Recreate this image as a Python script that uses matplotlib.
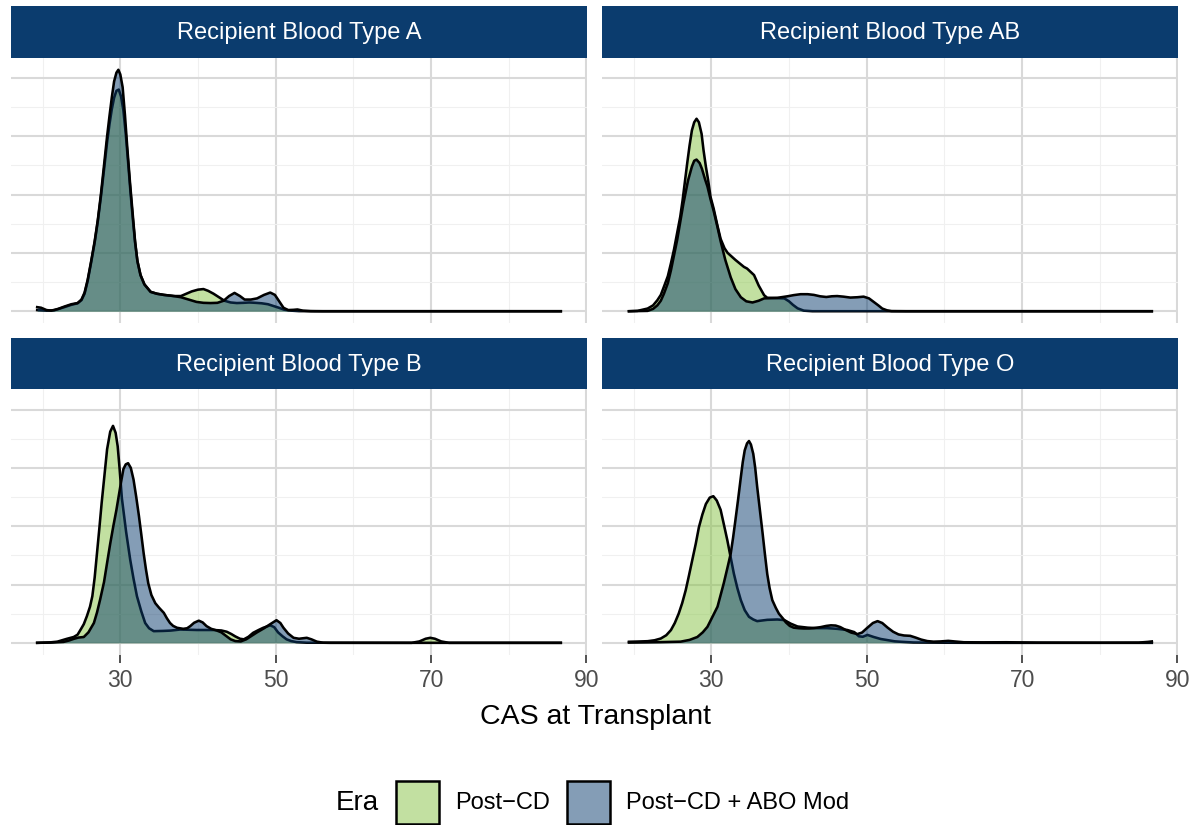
import matplotlib
matplotlib.use("Agg")
import matplotlib.pyplot as plt
from matplotlib.patches import Rectangle
import numpy as np

plt.rcParams['font.family'] = ['Liberation Sans', 'DejaVu Sans']

# ---- data: density of CAS at transplant ----
panels = ['Recipient Blood Type A', 'Recipient Blood Type AB',
          'Recipient Blood Type B', 'Recipient Blood Type O']
eras = ['Post\u2212CD', 'Post\u2212CD + ABO Mod']

a_post_x = [19.3, 20.5, 21.5, 22.8, 23.7, 24.5, 25.0, 25.4, 25.8, 26.25, 26.7, 27.1, 27.5, 27.95, 28.3,
            28.6, 28.9, 29.2, 29.5, 29.8, 30.1, 30.4, 30.7, 31.0, 31.3, 31.6, 31.9, 32.2, 32.6, 33.1,
            33.9, 34.7, 35.6, 36.9, 37.8, 38.5, 39.2, 40.0, 40.7, 41.3, 42.0, 42.7, 43.4, 44.2, 45.0,
            45.8, 46.6, 47.4, 48.2, 49.0, 49.7, 50.4, 51.1, 52.0, 53.0, 55.0, 86.7]
a_post_y = [0.001, 0.0005, 0.0008, 0.0035, 0.0055, 0.0068, 0.0095, 0.015, 0.026, 0.042, 0.059, 0.077,
            0.098, 0.124, 0.145, 0.16, 0.173, 0.183, 0.189, 0.19, 0.184, 0.172, 0.152, 0.128, 0.103,
            0.08, 0.059, 0.043, 0.031, 0.023, 0.0166, 0.015, 0.014, 0.013, 0.013, 0.015, 0.017, 0.0185,
            0.019, 0.0175, 0.015, 0.012, 0.009, 0.0075, 0.007, 0.0072, 0.0075, 0.0072, 0.0068, 0.006,
            0.0045, 0.003, 0.0013, 0.0005, 0.0001, 0.0, 0.0]
a_abo_x = [19.3, 19.8, 20.5, 21.1, 22.0, 22.8, 23.7, 24.5, 25.0, 25.4, 25.8, 26.25, 26.7, 27.1, 27.5,
           27.95, 28.3, 28.6, 28.9, 29.2, 29.5, 29.75, 30.0, 30.3, 30.6, 30.9, 31.25, 31.6, 31.9, 32.2,
           32.6, 33.1, 33.9, 34.7, 35.6, 36.9, 37.8, 38.8, 39.8, 40.7, 41.6, 42.5, 43.3, 44.0, 44.7,
           45.4, 46.0, 46.8, 47.6, 48.5, 49.3, 49.9, 50.5, 51.0, 51.6, 52.3, 52.8, 53.5, 54.5, 56.0, 86.7]
a_abo_y = [0.0035, 0.003, 0.001, 0.0005, 0.002, 0.004, 0.006, 0.007, 0.01, 0.016, 0.027, 0.043, 0.06,
           0.078, 0.1, 0.128, 0.15, 0.167, 0.183, 0.197, 0.2045, 0.207, 0.203, 0.192, 0.168, 0.14, 0.11,
           0.083, 0.06, 0.043, 0.031, 0.023, 0.0166, 0.015, 0.014, 0.013, 0.012, 0.01, 0.008, 0.0072,
           0.007, 0.0072, 0.009, 0.013, 0.0157, 0.013, 0.01, 0.01, 0.011, 0.014, 0.016, 0.014, 0.008,
           0.003, 0.001, 0.0012, 0.0015, 0.0005, 0.0001, 0.0, 0.0]

ab_post_x = [19.4, 20.5, 21.8, 22.5, 23.05, 23.5, 23.9, 24.4, 24.8, 25.2, 25.6, 26.0, 26.3, 26.6, 26.9,
             27.2, 27.5, 27.8, 28.1, 28.4, 28.75, 29.0, 29.3, 29.6, 29.9, 30.3, 30.8, 31.2, 31.7, 32.1,
             33.1, 34.2, 34.6, 35.5, 36.1, 36.8, 37.2, 38.5, 39.4, 40.0, 40.5, 41.1, 41.9, 43.0, 86.7]
ab_post_y = [0.0, 0.0003, 0.0023, 0.005, 0.0094, 0.014, 0.021, 0.03, 0.041, 0.053, 0.067, 0.081, 0.095,
             0.111, 0.127, 0.142, 0.155, 0.162, 0.165, 0.162, 0.152, 0.138, 0.124, 0.112, 0.098, 0.088,
             0.073, 0.062, 0.054, 0.05, 0.044, 0.038, 0.0366, 0.031, 0.022, 0.0137, 0.0115, 0.0112,
             0.011, 0.0085, 0.0055, 0.0025, 0.0005, 0.0, 0.0]
ab_abo_x = [19.4, 21.8, 22.5, 23.05, 23.5, 23.9, 24.4, 24.8, 25.6, 26.4, 27.0, 27.5, 27.8, 28.1, 28.5,
            28.8, 29.2, 29.5, 29.9, 30.3, 30.8, 31.2, 31.8, 32.5, 33.1, 33.8, 34.5, 35.3, 36.1, 36.8,
            37.5, 38.5, 39.8, 40.6, 41.5, 42.4, 43.2, 44.0, 44.8, 45.5, 46.2, 47.0, 47.9, 48.8, 49.6,
            50.3, 50.9, 51.5, 52.0, 52.6, 53.2, 55.0, 86.7]
ab_abo_y = [0.0, 0.0003, 0.002, 0.005, 0.009, 0.015, 0.024, 0.035, 0.061, 0.092, 0.112, 0.124, 0.129,
            0.13, 0.127, 0.122, 0.113, 0.107, 0.096, 0.086, 0.072, 0.06, 0.044, 0.029, 0.019, 0.012,
            0.0085, 0.0075, 0.009, 0.011, 0.0112, 0.0115, 0.0128, 0.0138, 0.0146, 0.0146, 0.014, 0.0128,
            0.0122, 0.0128, 0.013, 0.0125, 0.0117, 0.012, 0.0125, 0.011, 0.008, 0.005, 0.0023, 0.0008,
            0.0001, 0.0, 0.0]

b_post_x = [19.3, 21.0, 21.9, 23.1, 24.0, 24.5, 24.9, 25.3, 25.7, 26.1, 26.4, 26.7, 27.0, 27.3, 27.6,
            27.95, 28.3, 28.7, 29.06, 29.4, 29.66, 29.9, 30.2, 30.75, 31.28, 31.7, 32.14, 32.7, 33.2,
            33.7, 34.3, 35.5, 36.5, 37.7, 39.85, 42.0, 43.0, 43.7, 44.3, 44.8, 45.4, 45.9, 46.5, 47.1,
            47.8, 48.4, 49.3, 49.8, 50.3, 50.9, 51.4, 52.0, 52.7, 54.0, 67.5, 68.5, 69.3, 69.9, 70.5,
            71.3, 72.3, 86.7]
b_post_y = [0.0, 0.0004, 0.001, 0.0034, 0.005, 0.007, 0.0114, 0.016, 0.0229, 0.031, 0.04, 0.056, 0.077,
            0.098, 0.12, 0.143, 0.166, 0.181, 0.186, 0.18, 0.1686, 0.15, 0.124, 0.095, 0.071, 0.055,
            0.04, 0.027, 0.017, 0.0125, 0.01, 0.0102, 0.0105, 0.0114, 0.011, 0.011, 0.0106, 0.0095,
            0.0075, 0.0055, 0.0035, 0.003, 0.0052, 0.0086, 0.011, 0.0129, 0.015, 0.0135, 0.009, 0.0055,
            0.003, 0.0015, 0.0006, 0.0001, 0.0, 0.0012, 0.0035, 0.0043, 0.0035, 0.0012, 0.0, 0.0]
b_abo_x = [19.3, 21.0, 22.7, 23.4, 24.0, 24.6, 25.3, 25.9, 26.6, 27.0, 27.4, 27.9, 28.3, 28.7, 29.1,
           29.5, 29.8, 30.1, 30.4, 30.7, 31.0, 31.35, 31.7, 32.05, 32.4, 32.7, 33.0, 33.3, 33.6, 34.0,
           34.5, 35.0, 35.6, 36.0, 36.4, 36.8, 37.3, 38.1, 38.6, 39.0, 39.5, 40.1, 40.6, 41.1, 41.7,
           42.4, 43.0, 43.6, 44.2, 44.8, 45.5, 46.2, 46.9, 47.6, 48.5, 49.3, 50.1, 50.6, 51.0, 51.6,
           52.3, 53.0, 54.0, 54.6, 55.3, 56.1, 57.0, 86.7]
b_abo_y = [0.0, 0.0002, 0.0008, 0.002, 0.0034, 0.0045, 0.005, 0.009, 0.017, 0.026, 0.037, 0.052, 0.0686,
           0.085, 0.1, 0.114, 0.126, 0.138, 0.149, 0.153, 0.154, 0.15, 0.14, 0.125, 0.1086, 0.093, 0.077,
           0.063, 0.051, 0.041, 0.034, 0.03, 0.0257, 0.021, 0.017, 0.0145, 0.0129, 0.012, 0.0125,
           0.0143, 0.0172, 0.019, 0.0175, 0.0143, 0.012, 0.0106, 0.009, 0.006, 0.003, 0.0015, 0.0012,
           0.003, 0.006, 0.009, 0.0125, 0.016, 0.0194, 0.017, 0.0129, 0.008, 0.0043, 0.0035, 0.0043,
           0.003, 0.001, 0.0001, 0.0, 0.0]

o_post_x = [19.4, 20.5, 21.8, 22.7, 23.5, 24.2, 24.8, 25.3, 25.8, 26.25, 26.7, 27.1, 27.55, 28.0, 28.4,
            28.85, 29.3, 29.8, 30.26, 30.7, 31.2, 31.6, 32.06, 32.5, 32.9, 33.35, 33.8, 34.3, 34.85,
            35.4, 35.9, 37.2, 38.5, 39.4, 40.2, 41.1, 42.4, 43.6, 44.9, 46.2, 47.5, 48.4, 49.0, 49.5,
            50.1, 50.9, 51.8, 52.7, 53.6, 54.4, 56.0, 60.0, 65.0, 86.7]
o_post_y = [0.0009, 0.0011, 0.0014, 0.0022, 0.0037, 0.0065, 0.0109, 0.017, 0.025, 0.034, 0.045, 0.057,
            0.071, 0.085, 0.099, 0.11, 0.119, 0.1245, 0.1257, 0.122, 0.114, 0.102, 0.088, 0.073, 0.0594,
            0.047, 0.0366, 0.028, 0.0223, 0.02, 0.0186, 0.0197, 0.02, 0.0195, 0.0165, 0.014, 0.013,
            0.0126, 0.0126, 0.012, 0.011, 0.0092, 0.0056, 0.0052, 0.0068, 0.005, 0.0033, 0.0023, 0.0013,
            0.0009, 0.0003, 0.0001, 0.0, 0.0]
o_abo_x = [19.4, 23.5, 26.05, 27.2, 28.2, 28.9, 29.5, 30.2, 30.8, 31.2, 31.6, 32.1, 32.5, 32.8, 33.1,
           33.45, 33.8, 34.05, 34.3, 34.6, 34.85, 35.1, 35.4, 35.65, 35.9, 36.25, 36.6, 36.9, 37.2, 37.5,
           37.85, 38.3, 38.7, 39.2, 39.6, 40.1, 40.6, 41.3, 41.9, 42.6, 43.2, 44.1, 44.8, 45.4, 46.0,
           46.6, 47.3, 48.0, 48.8, 49.4, 50.1, 50.8, 51.4, 52.0, 52.7, 53.4, 54.1, 54.8, 55.6, 56.3,
           57.0, 57.8, 58.6, 59.5, 60.5, 61.3, 62.5, 65.0, 68.0, 72.0, 80.0, 85.0, 86.2, 86.7]
o_abo_y = [0.0002, 0.0006, 0.001, 0.0025, 0.005, 0.009, 0.0137, 0.023, 0.031, 0.041, 0.051, 0.065,
           0.0766, 0.09, 0.105, 0.123, 0.142, 0.155, 0.165, 0.171, 0.173, 0.17, 0.162, 0.15, 0.134,
           0.114, 0.094, 0.076, 0.059, 0.047, 0.0366, 0.03, 0.025, 0.021, 0.0175, 0.0145, 0.013, 0.0125,
           0.0123, 0.0123, 0.0126, 0.0135, 0.0145, 0.015, 0.0148, 0.0135, 0.011, 0.0088, 0.0075, 0.0088,
           0.013, 0.017, 0.0186, 0.017, 0.013, 0.0095, 0.0072, 0.0063, 0.006, 0.0045, 0.0028, 0.0015,
           0.001, 0.0012, 0.0017, 0.0012, 0.0005, 0.0004, 0.0005, 0.0002, 0.0001, 0.0002, 0.0008, 0.0012]

post_x = [a_post_x, ab_post_x, b_post_x, o_post_x]
post_y = [a_post_y, ab_post_y, b_post_y, o_post_y]
abo_x = [a_abo_x, ab_abo_x, b_abo_x, o_abo_x]
abo_y = [a_abo_y, ab_abo_y, b_abo_y, o_abo_y]

x_major = [30, 50, 70, 90]
x_minor = [20, 40, 60, 80]
y_major = [0, 0.05, 0.10, 0.15, 0.20]
y_minor = [0.025, 0.075, 0.125, 0.175]

green = '#86C344'
navy = '#0B3C6E'
W, H = 1195, 825

fig = plt.figure(figsize=(W / 100, H / 100), dpi=100)

# shared scales (ggplot style 5% expansion)
allx = np.concatenate([np.array(v) for v in post_x + abo_x])
ally = np.concatenate([np.array(v) for v in post_y + abo_y])
xr = allx.max() - allx.min()
xlim = (allx.min() - 0.05 * xr, allx.max() + 0.05 * xr)
ylim = (-0.05 * ally.max(), 1.05 * ally.max())

lefts = [11, 602, 11, 602]
tops = [57.7, 57.7, 389.3, 389.3]
pw, ph, sh = 576, 265.6, 51.6

for i in range(4):
    ax = fig.add_axes([lefts[i] / W, 1 - (tops[i] + ph) / H, pw / W, ph / H])
    ax.fill_between(post_x[i], post_y[i], 0, color=green, alpha=0.5, lw=0, zorder=2)
    ax.plot(post_x[i], post_y[i], color='black', lw=1.85, zorder=3, solid_joinstyle='round')
    ax.fill_between(abo_x[i], abo_y[i], 0, color=navy, alpha=0.5, lw=0, zorder=4)
    ax.plot(abo_x[i], abo_y[i], color='black', lw=1.85, zorder=5, solid_joinstyle='round')

    ax.set_xlim(xlim)
    ax.set_ylim(ylim)
    ax.set_xticks(x_major)
    ax.set_xticks(x_minor, minor=True)
    ax.set_yticks(y_major)
    ax.set_yticks(y_minor, minor=True)
    ax.grid(which='major', color='#D9D9D9', lw=1.5, zorder=0)
    ax.grid(which='minor', color='#F0F0F0', lw=0.8, zorder=0)
    ax.set_axisbelow(True)
    for s in ax.spines.values():
        s.set_visible(False)
    ax.tick_params(axis='y', which='both', length=0, labelleft=False)
    ax.tick_params(axis='x', which='minor', length=0)
    if i >= 2:
        ax.tick_params(axis='x', which='major', length=5.5, width=1.2, color='#333333',
                       labelsize=16.5, labelcolor='#4D4D4D', pad=5)
    else:
        ax.tick_params(axis='x', which='major', length=0, labelbottom=False)

    # facet strip
    sax = fig.add_axes([lefts[i] / W, 1 - tops[i] / H, pw / W, sh / H])
    sax.set_facecolor(navy)
    sax.set_xticks([])
    sax.set_yticks([])
    for s in sax.spines.values():
        s.set_visible(False)
    sax.text(0.5, 0.47, panels[i], color='white', fontsize=17, ha='center', va='center',
             transform=sax.transAxes)

fig.text(595 / W, 1 - 717 / H, 'CAS at Transplant', fontsize=20.5, ha='center', va='center')

# legend
fig.text(336 / W, 1 - 803 / H, 'Era', fontsize=20, ha='left', va='center')
key_left = [396, 567]
lab_left = [455, 626]
key_col = [green, navy]
for k in range(2):
    fig.patches.append(Rectangle((key_left[k] / W, 1 - 824 / H), 43 / W, 43 / H,
                                 transform=fig.transFigure, facecolor='white', edgecolor='none'))
    fig.patches.append(Rectangle((key_left[k] / W, 1 - 824 / H), 43 / W, 43 / H,
                                 transform=fig.transFigure, facecolor=key_col[k], alpha=0.5,
                                 edgecolor='none'))
    fig.patches.append(Rectangle((key_left[k] / W, 1 - 824 / H), 43 / W, 43 / H,
                                 transform=fig.transFigure, facecolor='none', edgecolor='black',
                                 lw=1.8))
    fig.text(lab_left[k] / W, 1 - 803 / H, eras[k], fontsize=17, ha='left', va='center')

fig.savefig('out.png', dpi=100)
